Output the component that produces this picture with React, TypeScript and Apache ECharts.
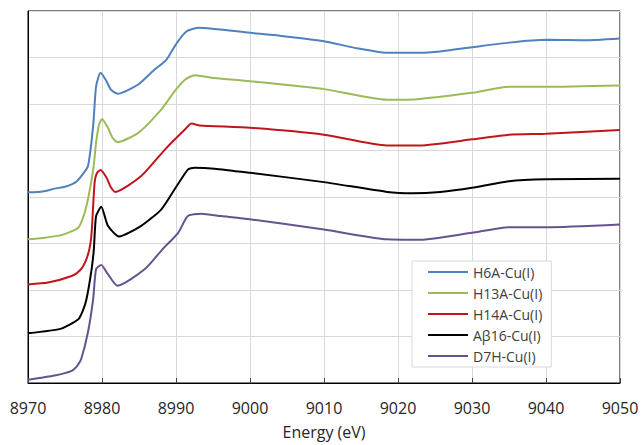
import React, { useEffect, useRef } from "react";
import * as echarts from "echarts";

const seriesNames = ["H6A-Cu(I)", "H13A-Cu(I)", "H14A-Cu(I)", "Aβ16-Cu(I)", "D7H-Cu(I)"];
const seriesColors = ["#4f81bd", "#9bbb59", "#c0161b", "#000000", "#65528e"];

const xTicks = [8970, 8980, 8990, 9000, 9010, 9020, 9030, 9040, 9050];

const h6aE = [8970, 8972, 8973.6, 8975, 8975.9, 8976.6, 8977.2, 8978.1, 8978.8, 8979.2, 8979.8, 8980.5, 8981.2, 8982.1, 8984.9, 8987.1, 8988.7, 8990.1, 8991.4, 8993.1, 9000, 9004, 9010, 9014.4, 9018.5, 9023, 9025.7, 9030, 9035, 9040, 9045, 9050];
const h6aV = [4.10, 4.12, 4.18, 4.22, 4.27, 4.34, 4.45, 4.66, 5.52, 6.38, 6.67, 6.52, 6.31, 6.22, 6.42, 6.74, 6.95, 7.31, 7.56, 7.64, 7.53, 7.47, 7.35, 7.20, 7.10, 7.10, 7.13, 7.22, 7.32, 7.38, 7.37, 7.41];

const h13aE = [8970, 8972, 8974.5, 8976.8, 8977.6, 8978.1, 8978.6, 8978.9, 8979.2, 8979.6, 8980, 8980.8, 8981.4, 8982.1, 8984.9, 8988, 8989.8, 8991.2, 8992.5, 8995.2, 9000, 9010, 9018.5, 9023, 9030, 9035, 9040, 9050];
const h13aV = [3.09, 3.12, 3.18, 3.34, 3.63, 3.95, 4.38, 4.70, 5.17, 5.56, 5.68, 5.49, 5.28, 5.18, 5.38, 5.88, 6.27, 6.52, 6.62, 6.56, 6.49, 6.32, 6.09, 6.11, 6.24, 6.37, 6.37, 6.40];

const h14aE = [8970, 8972.7, 8975.9, 8977, 8977.7, 8978.3, 8978.6, 8979.0, 8979.3, 8979.8, 8980.6, 8981.2, 8981.8, 8985.3, 8988.5, 8991.2, 8992.1, 8993.2, 9000, 9010, 9018.5, 9023, 9030, 9035, 9040, 9050];
const h14aV = [2.12, 2.16, 2.30, 2.42, 2.59, 2.88, 3.24, 4.31, 4.51, 4.58, 4.42, 4.21, 4.11, 4.45, 5.02, 5.45, 5.58, 5.54, 5.49, 5.34, 5.11, 5.11, 5.24, 5.34, 5.36, 5.44];

const ab16E = [8970, 8974.5, 8976.8, 8977.4, 8977.9, 8978.6, 8978.9, 8979.2, 8979.9, 8980.8, 8982.3, 8985.3, 8988, 8989.8, 8991.6, 8992.5, 8995.2, 9000, 9010, 9018.5, 9022, 9025.7, 9030, 9035, 9040, 9050];
const ab16V = [1.07, 1.17, 1.37, 1.55, 1.80, 2.45, 2.88, 3.59, 3.79, 3.38, 3.15, 3.38, 3.73, 4.16, 4.59, 4.63, 4.61, 4.52, 4.32, 4.11, 4.08, 4.11, 4.20, 4.34, 4.38, 4.39];

const d7hE = [8970, 8973.6, 8975.9, 8976.7, 8977.2, 8978.1, 8978.8, 8979.2, 8979.9, 8980.8, 8982.1, 8985.8, 8988.2, 8990.3, 8991.6, 8993.4, 8996.1, 9000, 9010, 9018.5, 9023, 9030, 9035, 9040, 9050];
const d7hV = [0.07, 0.16, 0.26, 0.38, 0.52, 1.09, 1.80, 2.45, 2.54, 2.34, 2.09, 2.45, 2.88, 3.23, 3.59, 3.64, 3.59, 3.52, 3.30, 3.09, 3.08, 3.23, 3.35, 3.35, 3.41];

const energies = [h6aE, h13aE, h14aE, ab16E, d7hE];
const values = [h6aV, h13aV, h14aV, ab16V, d7hV];

const FONT = "'Open Sans', 'Noto Sans', sans-serif";

export default function App() {
  const ref = useRef<HTMLDivElement>(null);
  useEffect(() => {
    if (!ref.current) return;
    const chart = echarts.init(ref.current, null, { renderer: "svg" });
    chart.setOption({
      animation: false,
      backgroundColor: "#ffffff",
      grid: {
        left: 28,
        right: 23,
        top: 11,
        bottom: 61,
        show: true,
        borderColor: "#000000",
        borderWidth: 1,
      },
      legend: {
        orient: "vertical",
        left: 412,
        top: 261,
        data: seriesNames,
        backgroundColor: "#ffffff",
        borderColor: "#d9d9d9",
        borderWidth: 1,
        padding: [4, 9, 4, 16],
        itemGap: 7,
        itemWidth: 40,
        itemHeight: 2,
        icon: "rect",
        textStyle: { fontFamily: FONT, fontSize: 14, color: "#404040", lineHeight: 14 },
      },
      xAxis: {
        type: "value",
        min: xTicks[0],
        max: xTicks[xTicks.length - 1],
        interval: 10,
        name: "Energy (eV)",
        nameLocation: "middle",
        nameGap: 41,
        nameTextStyle: { fontFamily: FONT, fontSize: 16, color: "#262626" },
        axisLine: { show: true, lineStyle: { color: "#000000", width: 1 } },
        axisTick: { show: true, inside: true, length: 5, lineStyle: { color: "#404040" } },
        axisLabel: {
          fontFamily: FONT,
          fontSize: 16,
          color: "#262626",
          margin: 17,
          formatter: (v: number) => String(v),
        },
        splitLine: { show: true, lineStyle: { color: "#d9d9d9", width: 1 } },
      },
      yAxis: {
        type: "value",
        min: 0,
        max: 8,
        interval: 1,
        axisLine: { show: true, lineStyle: { color: "#000000", width: 1 } },
        axisTick: { show: false },
        axisLabel: { show: false },
        splitLine: { show: true, lineStyle: { color: "#d9d9d9", width: 1 } },
      },
      series: seriesNames.map((name, i) => ({
        name,
        type: "line",
        data: energies[i].map((e, j) => [e, values[i][j]]),
        symbol: "none",
        showSymbol: false,
        smooth: 0.2,
        color: seriesColors[i],
        lineStyle: { width: 2, color: seriesColors[i] },
      })),
    });
    return () => chart.dispose();
  }, []);
  return (
    <div
      ref={ref}
      style={{ position: "fixed", left: 0, top: 0, width: 643, height: 445 }}
    />
  );
}
